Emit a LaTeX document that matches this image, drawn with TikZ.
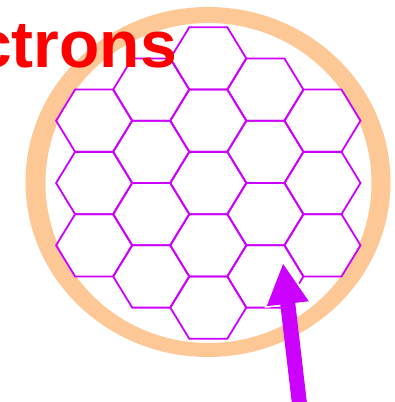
\documentclass[tikz,border=0pt]{standalone}
\usepackage{fontspec}
\setmainfont{Liberation Sans}
\usetikzlibrary{arrows.meta}
\definecolor{ringpeach}{RGB}{253,200,150}
\definecolor{cellviolet}{RGB}{204,0,255}

\begin{document}
\begin{tikzpicture}[x=1pt, y=-1pt, >={Triangle[length=41pt, width=39pt]},
	cell/.style={draw=cellviolet, line width=1.8pt},
	label/.style={font=\bfseries\fontsize{66}{66}\selectfont, text=red, inner sep=0}]
	\useasboundingbox (0,0) rectangle (394,402);
	\clip (0,0) rectangle (394,402);
	% peach ring
	\fill[ringpeach, even odd rule] (208,182) ellipse [x radius=182.5, y radius=175]
		(208.5,183) ellipse [x radius=163, y radius=160];
	% honeycomb, 19 cells in 5 columns
	\foreach \k in {-2,...,2} {
		\pgfmathtruncatemacro{\ncell}{5-abs(\k)}
		\pgfmathsetmacro{\cx}{208.3+57.1*\k}
		\foreach \j in {1,...,\ncell} {
			\pgfmathsetmacro{\cy}{183+62.3*(\j-(\ncell+1)/2)}
			\draw[cell] (\cx+38,\cy) -- ++(-19,31.15) -- ++(-38,0) -- ++(-19,-31.15)
				-- ++(19,-31.15) -- ++(38,0) -- cycle;
		}
	}
	\node[label, anchor=base east] (title) at (177,67) {Electrons};
	% pointer, with a thin white halo round its head
	\coordinate (tail) at (299.5,404);
	\coordinate (tip) at (283,263);
	\coordinate (halo) at (286.5,292.8);
	\draw[white, -{Triangle[length=47pt, width=47pt]}, shorten >=-4.5pt] (halo) -- (tip);
	\draw[->, cellviolet, line width=15pt] (tail) -- (tip);
\end{tikzpicture}
\end{document}
